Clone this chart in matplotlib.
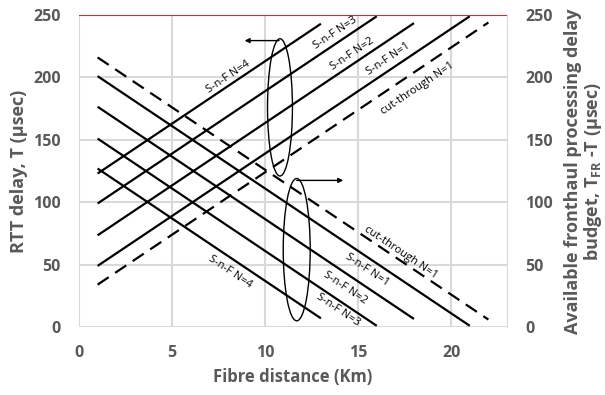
import matplotlib
matplotlib.use('Agg')
import matplotlib.pyplot as plt
from matplotlib.patches import Ellipse

# RTT delay T (increasing lines) vs fibre distance, endpoints
snf4_d = [1, 13]
snf4_T = [123, 243]
snf3_d = [1, 16]
snf3_T = [99, 249]
snf2_d = [1, 18]
snf2_T = [73.5, 243.5]
snf1_d = [1, 21]
snf1_T = [49, 249]
ct1_d = [1, 22]
ct1_T = [34, 244]

# available processing budget T_FR - T (decreasing lines)
snf4_B = [127, 7]
snf3_B = [151, 1]
snf2_B = [176.5, 6.5]
snf1_B = [201, 1]
ct1_B = [216, 6]

T_FR = 250
x_ticks = [0, 5, 10, 15, 20]
y_ticks = [0, 50, 100, 150, 200, 250]

plt.rcParams['font.family'] = ['Open Sans', 'DejaVu Sans']
plt.rcParams['mathtext.fontset'] = 'custom'
plt.rcParams['mathtext.rm'] = 'Open Sans:bold'

grey = '#595959'
fig = plt.figure(figsize=(6.05, 3.95), dpi=100)
ax = fig.add_axes([0.1306, 0.172, 0.7074, 0.79])

ax.set_xlim(0, 23)
ax.set_ylim(0, 250)
ax.set_xticks(x_ticks)
ax.set_yticks(y_ticks)
ax.grid(True, color='#d9d9d9', lw=1.5)
ax.set_axisbelow(True)
for s in ax.spines.values():
    s.set_visible(False)
ax.spines['right'].set_visible(True)
ax.spines['right'].set_color('#d9d9d9')
ax.tick_params(length=0, labelsize=11.5, labelcolor=grey, pad=13)
for lab in ax.get_xticklabels() + ax.get_yticklabels():
    lab.set_fontweight('bold')

solid = dict(color='black', lw=1.6, solid_capstyle='butt')
dashed = dict(color='black', lw=1.6, dashes=(6, 3.5))

for d, T, B in [(snf4_d, snf4_T, snf4_B), (snf3_d, snf3_T, snf3_B),
                (snf2_d, snf2_T, snf2_B), (snf1_d, snf1_T, snf1_B)]:
    ax.plot(d, T, **solid)
    ax.plot(d, B, **solid)
ax.plot(ct1_d, ct1_T, **dashed)
ax.plot(ct1_d, ct1_B, **dashed)

ax.axhline(T_FR, color='#e8231f', lw=1.5, zorder=3)

# line labels
up = dict(rotation=34, ha='center', va='center', fontsize=8, rotation_mode='anchor')
dn = dict(rotation=-34, ha='center', va='center', fontsize=8, rotation_mode='anchor')
ax.text(8.0, 200, 'S-n-F N=4', **up)
ax.text(13.8, 236, 'S-n-F N=3', **up)
ax.text(14.7, 219, 'S-n-F N=2', **up)
ax.text(16.6, 215, 'S-n-F N=1', **up)
ax.text(18.2, 191, 'cut-through N=1', **up)
ax.text(8.1, 44, 'S-n-F N=4', **dn)
ax.text(17.3, 60, 'cut-through N=1', **dn)
ax.text(15.5, 46, 'S-n-F N=1', **dn)
ax.text(14.3, 31, 'S-n-F N=2', **dn)
ax.text(13.9, 14, 'S-n-F N=3', **dn)

# ellipses grouping the lines, arrows pointing to the relevant axis
ax.add_patch(Ellipse((10.8, 176), 1.34, 110, fill=False, color='black', lw=1))
ax.add_patch(Ellipse((11.7, 62), 1.45, 114, fill=False, color='black', lw=1))
arr = dict(arrowstyle='-|>', color='black', lw=1, mutation_scale=7, shrinkA=0, shrinkB=0)
ax.annotate('', xy=(8.9, 229.5), xytext=(10.75, 229.5), arrowprops=arr)
ax.annotate('', xy=(14.2, 117.5), xytext=(11.7, 117.5), arrowprops=arr)

ax.set_xlabel('Fibre distance (Km)', fontsize=12, fontweight='bold', color=grey, labelpad=5)
ax.set_ylabel('RTT delay, T (µsec)', fontsize=13, fontweight='bold', color=grey, labelpad=4)

ax2 = ax.twinx()
ax2.set_ylim(0, 250)
ax2.set_yticks(y_ticks)
for s in ax2.spines.values():
    s.set_visible(False)
ax2.tick_params(length=0, labelsize=11.5, labelcolor=grey, pad=13)
for lab in ax2.get_yticklabels():
    lab.set_fontweight('bold')
ax2.set_ylabel('Available fronthaul processing delay\nbudget, T$_{\\mathrm{FR}}$ -T (µsec)',
               fontsize=13, fontweight='bold', color=grey, labelpad=8, linespacing=1.0)

fig.savefig('out.png', dpi=100)
